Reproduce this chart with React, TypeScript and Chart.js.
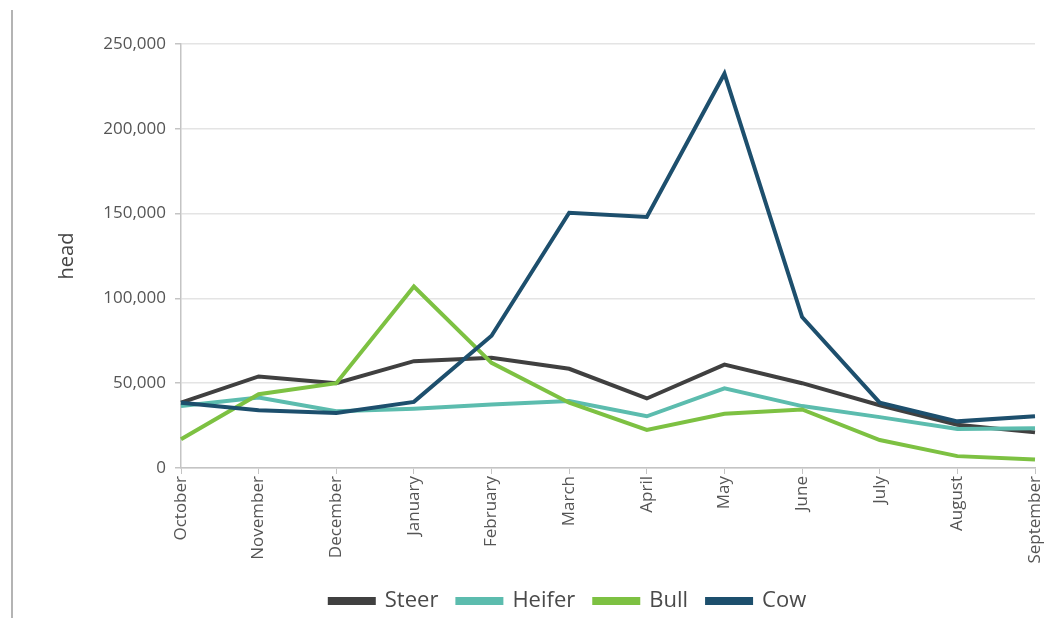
import React, { useEffect, useRef } from "react";
import { Chart, registerables } from "chart.js";

Chart.register(...registerables);

const months = [
  "October", "November", "December", "January", "February", "March",
  "April", "May", "June", "July", "August", "September",
];

const steer = [38500, 54000, 50000, 63000, 65000, 58500, 41000, 61000, 50000, 37000, 25500, 21000];
const heifer = [36500, 41500, 33500, 35000, 37500, 39500, 30500, 47000, 36500, 30000, 23000, 23500];
const bull = [17000, 43500, 50000, 107000, 62000, 38500, 22500, 32000, 34500, 16500, 7000, 5000];
const cow = [38500, 34000, 32500, 39000, 78000, 150500, 148000, 232500, 89000, 38500, 27500, 30500];

const yTicks = [0, 50000, 100000, 150000, 200000, 250000];

const FONT = "'Open Sans', 'Noto Sans', sans-serif";

export default function App() {
  const canvasRef = useRef<HTMLCanvasElement | null>(null);

  useEffect(() => {
    const canvas = canvasRef.current;
    if (!canvas) return;

    // Later series are drawn on top (lower order = drawn last).
    const series = [
      { label: "Steer", data: steer, color: "#404040", order: 3 },
      { label: "Heifer", data: heifer, color: "#5cbcae", order: 2 },
      { label: "Bull", data: bull, color: "#7dc142", order: 1 },
      { label: "Cow", data: cow, color: "#1d4f6d", order: 0 },
    ];

    const chart = new Chart(canvas, {
      type: "line",
      data: {
        labels: months,
        datasets: series.map((s) => ({
          label: s.label,
          data: s.data,
          order: s.order,
          borderColor: s.color,
          backgroundColor: s.color,
          borderWidth: 4,
          borderJoinStyle: "miter" as const,
          pointRadius: 0,
          pointHoverRadius: 0,
          tension: 0,
          fill: false,
        })),
      },
      options: {
        animation: false,
        responsive: false,
        maintainAspectRatio: false,
        layout: { padding: { left: 90, right: 0, top: 44, bottom: -4 } },
        plugins: {
          tooltip: { enabled: false },
          legend: {
            position: "bottom",
            labels: {
              boxWidth: 44,
              boxHeight: 4,
              padding: 19,
              color: "#4a4a4a",
              font: { family: FONT, size: 22 },
              sort: (a: any, b: any) => a.datasetIndex - b.datasetIndex,
            },
          },
        },
        scales: {
          x: {
            type: "category",
            offset: false,
            grid: {
              drawOnChartArea: false,
              drawTicks: true,
              tickLength: 6,
              tickColor: "#c4c4c4",
              color: "#c4c4c4",
            },
            border: { color: "#c4c4c4", width: 1.5 },
            ticks: {
              autoSkip: false,
              minRotation: 90,
              maxRotation: 90,
              padding: 2,
              color: "#555555",
              font: { family: FONT, size: 17 },
            },
            afterFit: (scale: any) => {
              scale.height = 103;
              scale.paddingLeft = 0;
              scale.paddingRight = 11;
            },
          },
          y: {
            min: 0,
            max: 250000,
            afterBuildTicks: (scale: any) => {
              scale.ticks = yTicks.map((v) => ({ value: v }));
            },
            grid: {
              color: "#e4e4e4",
              lineWidth: 1.5,
              drawTicks: true,
              tickLength: 6,
              tickColor: "#c4c4c4",
            },
            border: { color: "#c4c4c4", width: 1.5 },
            ticks: {
              padding: 9,
              color: "#555555",
              font: { family: FONT, size: 17 },
              callback: (v: any) => Number(v).toLocaleString("en-US"),
            },
            title: {
              display: true,
              text: "head",
              color: "#444444",
              padding: { top: -35, bottom: 0 },
              font: { family: FONT, size: 20 },
            },
            afterFit: (scale: any) => {
              scale.width = 91;
            },
          },
        },
      },
    });

    return () => chart.destroy();
  }, []);

  return (
    <div style={{ position: "fixed", left: 0, top: 0, width: 1046, height: 618, background: "#ffffff" }}>
      <div
        style={{
          position: "absolute",
          left: 11,
          top: 10,
          width: 0,
          height: 608,
          borderLeft: "2px solid #b4b4b4",
        }}
      />
      <canvas ref={canvasRef} width={1046} height={618} style={{ position: "absolute", left: 0, top: 0 }} />
    </div>
  );
}
